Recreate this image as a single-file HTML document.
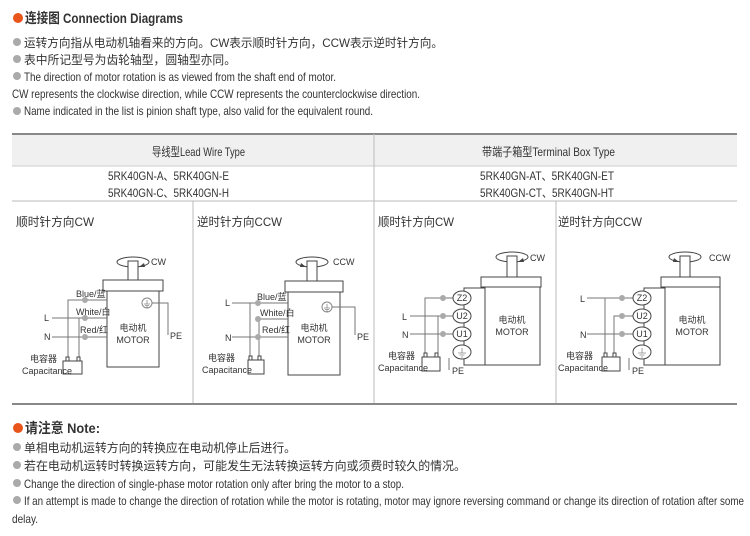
<!DOCTYPE html>
<html><head><meta charset="utf-8"><style>
html,body{margin:0;padding:0;background:#fff;}
svg{display:block;}
text{font-family:"Liberation Sans","Noto Sans CJK SC",sans-serif;fill:#333;}
.t{font-size:12px;}
.s{font-size:9px;}
.l{stroke:#777;stroke-width:1;fill:none;}
.m{stroke:#444;stroke-width:1;fill:#fff;}
.e{stroke:#444;stroke-width:1;fill:none;}
.d{fill:#aaa;}
</style></head><body>
<svg width="750" height="536" viewBox="0 0 750 536" xmlns="http://www.w3.org/2000/svg">
<defs>
<g id="gnd"><circle r="5" fill="#fff" stroke="#888"/><path d="M0 -3V1M-3 1H3M-2 2.5H2M-1 4H1" stroke="#888" stroke-width="0.8"/></g>
</defs>
<circle cx="18" cy="18" r="5" fill="#e8541a"/>
<text x="25" y="23" font-size="14" font-weight="bold" textLength="158" lengthAdjust="spacingAndGlyphs">连接图 Connection Diagrams</text>
<g class="d"><circle cx="17" cy="42" r="4"/><circle cx="17" cy="59" r="4"/><circle cx="17" cy="76" r="4"/><circle cx="17" cy="111" r="4"/>
<circle cx="17" cy="447" r="4"/><circle cx="17" cy="465" r="4"/><circle cx="17" cy="483" r="4"/><circle cx="17" cy="500" r="4"/></g>
<text class="t" x="24" y="47" textLength="419" lengthAdjust="spacingAndGlyphs">运转方向指从电动机轴看来的方向。CW表示顺时针方向，CCW表示逆时针方向。</text>
<text class="t" x="24" y="64" textLength="212" lengthAdjust="spacingAndGlyphs">表中所记型号为齿轮轴型，圆轴型亦同。</text>
<text class="t" x="24" y="81" textLength="312" lengthAdjust="spacingAndGlyphs">The direction of motor rotation is as viewed from the shaft end of motor.</text>
<text class="t" x="12" y="98" textLength="408" lengthAdjust="spacingAndGlyphs">CW represents the clockwise direction, while CCW represents the counterclockwise direction.</text>
<text class="t" x="24" y="115" textLength="349" lengthAdjust="spacingAndGlyphs">Name indicated in the list is pinion shaft type, also valid for the equivalent round.</text>
<rect x="12" y="135" width="725" height="31" fill="#f0f0f0"/>
<line x1="12" y1="134" x2="737" y2="134" stroke="#888" stroke-width="2"/>
<line x1="12" y1="166" x2="737" y2="166" stroke="#ccc"/>
<line x1="12" y1="201" x2="737" y2="201" stroke="#bbb"/>
<line x1="374" y1="134" x2="374" y2="404" stroke="#bbb"/>
<line x1="193" y1="201" x2="193" y2="404" stroke="#bbb"/>
<line x1="556" y1="201" x2="556" y2="404" stroke="#bbb"/>
<line x1="12" y1="404" x2="737" y2="404" stroke="#888" stroke-width="2"/>
<text class="t" x="152" y="156" font-size="11" textLength="93" lengthAdjust="spacingAndGlyphs">导线型Lead Wire Type</text>
<text class="t" x="482" y="156" font-size="11" textLength="133" lengthAdjust="spacingAndGlyphs">带端子箱型Terminal Box Type</text>
<text class="t" x="108" y="180" textLength="121" lengthAdjust="spacingAndGlyphs">5RK40GN-A、5RK40GN-E</text>
<text class="t" x="108" y="197" textLength="121" lengthAdjust="spacingAndGlyphs">5RK40GN-C、5RK40GN-H</text>
<text class="t" x="480" y="180" textLength="134" lengthAdjust="spacingAndGlyphs">5RK40GN-AT、5RK40GN-ET</text>
<text class="t" x="480" y="197" textLength="134" lengthAdjust="spacingAndGlyphs">5RK40GN-CT、5RK40GN-HT</text>
<text class="t" x="16" y="226" textLength="78" lengthAdjust="spacingAndGlyphs">顺时针方向CW</text>
<text class="t" x="197" y="226" textLength="85" lengthAdjust="spacingAndGlyphs">逆时针方向CCW</text>
<text class="t" x="378" y="226" textLength="76" lengthAdjust="spacingAndGlyphs">顺时针方向CW</text>
<text class="t" x="558" y="226" textLength="84" lengthAdjust="spacingAndGlyphs">逆时针方向CCW</text>

<!-- Panel 1 -->
<g>
<ellipse cx="133" cy="262" rx="16" ry="5" class="e"/>
<rect x="128" y="261" width="10" height="19" class="m"/>
<path d="M139 267 l5 -4 l1 4 z" fill="#444"/>
<text class="s" x="151" y="265">CW</text>
<rect x="103" y="280" width="60" height="11" class="m"/>
<rect x="107" y="291" width="52" height="76" class="m"/>
<use href="#gnd" x="147" y="303"/>
<path d="M152 303H168V335" class="l"/>
<text class="s" x="170" y="339">PE</text>
<path d="M68 358V300H107M79 358V318H107M52 318H85M52 337H107" class="l"/>
<g class="d"><circle cx="85" cy="300" r="3"/><circle cx="85" cy="318" r="3"/><circle cx="85" cy="337" r="3"/></g>
<text class="s" x="76" y="297">Blue/蓝</text>
<text class="s" x="76" y="315">White/白</text>
<text class="s" x="80" y="333">Red/红</text>
<text class="s" x="44" y="321">L</text>
<text class="s" x="44" y="340">N</text>
<rect x="63" y="361" width="19" height="13" class="m"/>
<rect x="66" y="357" width="3" height="4" class="m"/><rect x="77" y="357" width="3" height="4" class="m"/>
<text class="s" x="30" y="362">电容器</text>
<text class="s" x="22" y="374" font-size="8.5">Capacitance</text>
<text class="s" x="133" y="331" text-anchor="middle">电动机</text>
<text class="s" x="133" y="343" text-anchor="middle">MOTOR</text>
</g>

<!-- Panel 2 -->
<g>
<ellipse cx="312" cy="262" rx="16" ry="5" class="e"/>
<rect x="307" y="261" width="10" height="20" class="m"/>
<path d="M306 267 l-5 -4 l-1 4 z" fill="#444"/>
<text class="s" x="333" y="265">CCW</text>
<rect x="285" y="281" width="58" height="11" class="m"/>
<rect x="288" y="292" width="52" height="83" class="m"/>
<use href="#gnd" x="327" y="307"/>
<path d="M332 307H355V335" class="l"/>
<text class="s" x="357" y="340">PE</text>
<path d="M232 303H288M250 357V303M259 357V319H288M232 337H288" class="l"/>
<g class="d"><circle cx="258" cy="303" r="3"/><circle cx="258" cy="319" r="3"/><circle cx="258" cy="337" r="3"/></g>
<text class="s" x="257" y="300">Blue/蓝</text>
<text class="s" x="260" y="316">White/白</text>
<text class="s" x="262" y="333">Red/红</text>
<text class="s" x="225" y="306">L</text>
<text class="s" x="225" y="341">N</text>
<rect x="248" y="360" width="16" height="14" class="m"/>
<rect x="249" y="356" width="3" height="4" class="m"/><rect x="258" y="356" width="3" height="4" class="m"/>
<text class="s" x="208" y="361">电容器</text>
<text class="s" x="202" y="373" font-size="8.5">Capacitance</text>
<text class="s" x="314" y="331" text-anchor="middle">电动机</text>
<text class="s" x="314" y="343" text-anchor="middle">MOTOR</text>
</g>

<!-- Panel 3 -->
<g>
<ellipse cx="512" cy="257" rx="16" ry="5" class="e"/>
<rect x="507" y="256" width="10" height="21" class="m"/>
<path d="M518 262 l5 -4 l1 4 z" fill="#444"/>
<text class="s" x="530" y="261">CW</text>
<rect x="481" y="277" width="60" height="10" class="m"/>
<path d="M485 288H464V365H485" class="m" fill="none"/>
<rect x="485" y="287" width="55" height="78" class="m"/>
<path d="M425 354V298H453M410 316H453M438 354V316M410 334H453M449 358V370" class="l"/>
<g class="d"><circle cx="443" cy="298" r="3"/><circle cx="443" cy="316" r="3"/><circle cx="443" cy="334" r="3"/></g>
<g class="m"><ellipse cx="462" cy="298" rx="9" ry="7"/><ellipse cx="462" cy="316" rx="9" ry="7"/><ellipse cx="462" cy="334" rx="9" ry="7"/><ellipse cx="462" cy="352" rx="9" ry="7"/></g>
<path d="M462 348V353M458 353H466M459.5 355H464.5M461 357H463" stroke="#888" stroke-width="0.8"/>
<text class="s" x="462" y="301" text-anchor="middle">Z2</text>
<text class="s" x="462" y="319" text-anchor="middle">U2</text>
<text class="s" x="462" y="337" text-anchor="middle">U1</text>
<text class="s" x="402" y="320">L</text>
<text class="s" x="402" y="338">N</text>
<text class="s" x="452" y="374">PE</text>
<rect x="422" y="357" width="18" height="14" class="m"/>
<rect x="424" y="353" width="3" height="4" class="m"/><rect x="435" y="353" width="3" height="4" class="m"/>
<text class="s" x="388" y="359">电容器</text>
<text class="s" x="378" y="371" font-size="8.5">Capacitance</text>
<text class="s" x="512" y="323" text-anchor="middle">电动机</text>
<text class="s" x="512" y="335" text-anchor="middle">MOTOR</text>
</g>

<!-- Panel 4 -->
<g>
<ellipse cx="685" cy="257" rx="16" ry="5" class="e"/>
<rect x="680" y="256" width="10" height="21" class="m"/>
<path d="M679 262 l-5 -4 l-1 4 z" fill="#444"/>
<text class="s" x="709" y="261">CCW</text>
<rect x="661" y="277" width="59" height="10" class="m"/>
<path d="M665 288H644V365H665" class="m" fill="none"/>
<rect x="665" y="287" width="55" height="78" class="m"/>
<path d="M587 298H633M605 354V298M614 354V316H633M587 334H633M629 358V370" class="l"/>
<g class="d"><circle cx="622" cy="298" r="3"/><circle cx="622" cy="316" r="3"/><circle cx="622" cy="334" r="3"/></g>
<g class="m"><ellipse cx="642" cy="298" rx="9" ry="7"/><ellipse cx="642" cy="316" rx="9" ry="7"/><ellipse cx="642" cy="334" rx="9" ry="7"/><ellipse cx="642" cy="352" rx="9" ry="7"/></g>
<path d="M642 348V353M638 353H646M639.5 355H644.5M641 357H643" stroke="#888" stroke-width="0.8"/>
<text class="s" x="642" y="301" text-anchor="middle">Z2</text>
<text class="s" x="642" y="319" text-anchor="middle">U2</text>
<text class="s" x="642" y="337" text-anchor="middle">U1</text>
<text class="s" x="580" y="302">L</text>
<text class="s" x="580" y="338">N</text>
<text class="s" x="632" y="374">PE</text>
<rect x="602" y="357" width="18" height="14" class="m"/>
<rect x="604" y="353" width="3" height="4" class="m"/><rect x="613" y="353" width="3" height="4" class="m"/>
<text class="s" x="566" y="359">电容器</text>
<text class="s" x="558" y="371" font-size="8.5">Capacitance</text>
<text class="s" x="692" y="323" text-anchor="middle">电动机</text>
<text class="s" x="692" y="335" text-anchor="middle">MOTOR</text>
</g>

<circle cx="18" cy="428" r="5" fill="#e8541a"/>
<text x="25" y="433" font-size="14" font-weight="bold" textLength="75" lengthAdjust="spacingAndGlyphs">请注意 Note:</text>
<text class="t" x="24" y="452" textLength="272" lengthAdjust="spacingAndGlyphs">单相电动机运转方向的转换应在电动机停止后进行。</text>
<text class="t" x="24" y="470" textLength="442" lengthAdjust="spacingAndGlyphs">若在电动机运转时转换运转方向，可能发生无法转换运转方向或须费时较久的情况。</text>
<text class="t" x="24" y="488" textLength="380" lengthAdjust="spacingAndGlyphs">Change the direction of single-phase motor rotation only after bring the motor to a stop.</text>
<text class="t" x="24" y="505" textLength="720" lengthAdjust="spacingAndGlyphs">If an attempt is made to change the direction of rotation while the motor is rotating, motor may ignore reversing command or change its direction of rotation after some</text>
<text class="t" x="12" y="523" textLength="26" lengthAdjust="spacingAndGlyphs">delay.</text>
</svg>
</body></html>
